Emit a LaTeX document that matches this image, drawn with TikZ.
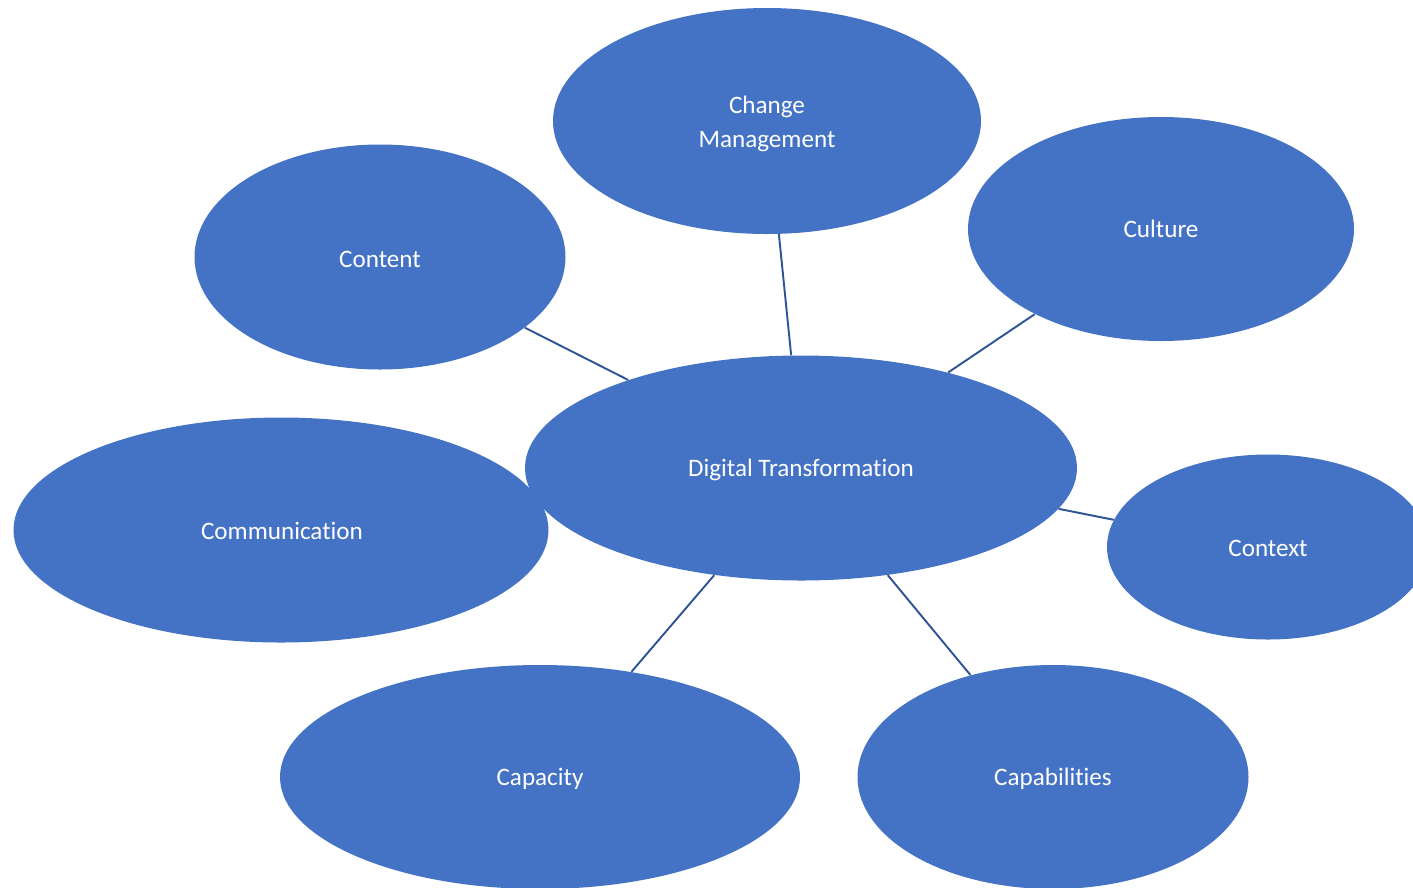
\documentclass[tikz,border=0pt]{standalone}
\usepackage{fontspec}
\setmainfont[Ligatures=NoCommon]{Carlito}
\usetikzlibrary{shapes.geometric}
\definecolor{bubble}{HTML}{4472C4}
\definecolor{link}{HTML}{2F5597}
\begin{document}
\begin{tikzpicture}[x=0.02cm,y=-0.02cm,
  bub/.style={ellipse,fill=bubble,draw=none,inner sep=0pt,text=white,align=center,
    font=\fontsize{14.3}{19.6}\selectfont},
  lbl/.style={text=white,align=center,font=\fontsize{14.3}{19.6}\selectfont,inner sep=0pt},
  conn/.style={draw=link,line width=1.1pt}]
\useasboundingbox (0,0) rectangle (1413,887);
\clip (0,0) rectangle (1413,887);
\node[bub,minimum width=428*0.02cm,minimum height=226*0.02cm] (change) at (767,121) {};
\node[lbl] (changet) at (767,124) {Change\\Management};
\node[bub,minimum width=371*0.02cm,minimum height=225*0.02cm] (content) at (380,257) {};
\node[lbl] (contentt) at (380,259) {Content};
\node[bub,minimum width=386*0.02cm,minimum height=224*0.02cm] (culture) at (1161,229) {};
\node[lbl] (culturet) at (1161,229) {Culture};
\node[bub,minimum width=552*0.02cm,minimum height=225*0.02cm] (dt) at (801,468) {};
\node[lbl] (dtt) at (801,470) {Digital Transformation};
\node[bub,minimum width=535*0.02cm,minimum height=225*0.02cm] (comm) at (281,530) {};
\node[lbl] (commt) at (282,531) {Communication};
\node[bub,minimum width=322*0.02cm,minimum height=185*0.02cm] (context) at (1268,547) {};
\node[lbl] (contextt) at (1268,548) {Context};
\node[bub,minimum width=520*0.02cm,minimum height=224*0.02cm] (capacity) at (540,777) {};
\node[lbl] (capacityt) at (540,779) {Capacity};
\node[bub,minimum width=391*0.02cm,minimum height=224*0.02cm] (capab) at (1053,777) {};
\node[lbl] (capabt) at (1053,779) {Capabilities};
\draw[conn] (content.-26.9) -- (dt.153.3);
\draw[conn] (change.-84) -- (dt.95.6);
\draw[conn] (culture.-146) -- (dt.33.6);
\draw[conn] (context.170.5) -- (dt.-9.7);
\draw[conn] (capacity.49.6) -- (dt.-129.9);
\draw[conn] (capab.129.3) -- (dt.-51.1);
\end{tikzpicture}
\end{document}
